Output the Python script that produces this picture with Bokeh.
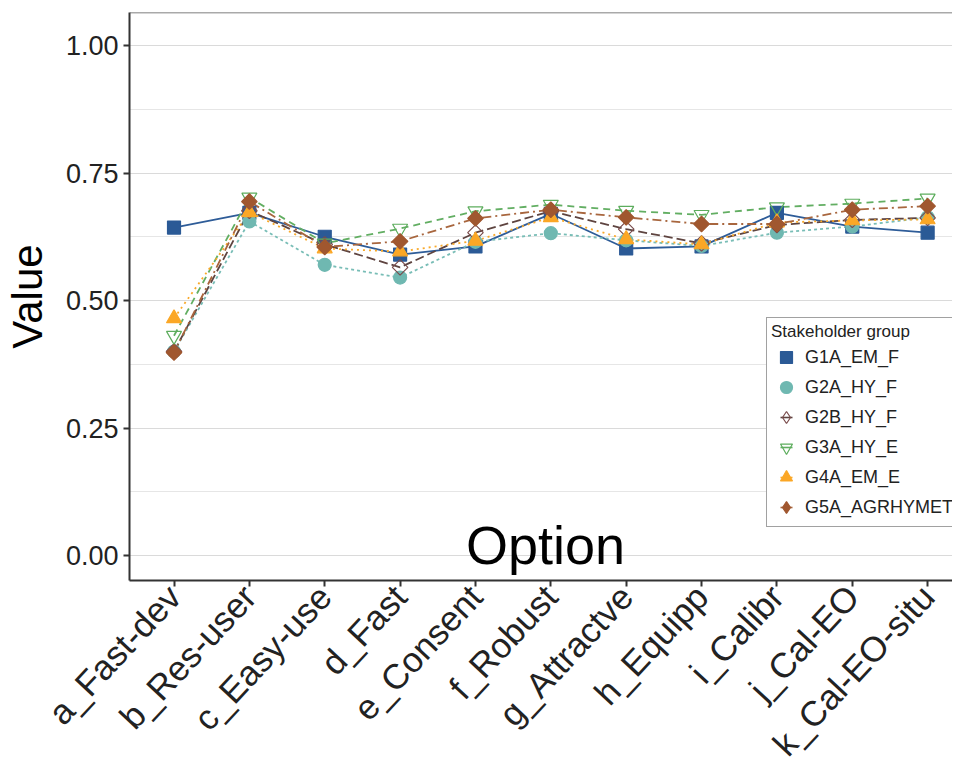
from math import pi, radians
import numpy as np
from bokeh.plotting import figure
from bokeh.models import (Range1d, FixedTicker, Legend, LegendItem, Span, Label,
                          PrintfTickFormatter, ColumnDataSource)
from bokeh.embed import file_html
from bokeh.resources import INLINE

categories = ["a_Fast-dev", "b_Res-user", "c_Easy-use", "d_Fast", "e_Consent",
              "f_Robust", "g_Attractve", "h_Equipp", "i_Calibr", "j_Cal-EO",
              "k_Cal-EO-situ"]
groups = ["G1A_EM_F", "G2A_HY_F", "G2B_HY_F", "G3A_HY_E", "G4A_EM_E", "G5A_AGRHYMET"]

g1a = [0.643, 0.672, 0.625, 0.590, 0.606, 0.670, 0.602, 0.606, 0.672, 0.645, 0.633]
g2a = [0.400, 0.655, 0.570, 0.545, 0.615, 0.632, 0.618, 0.607, 0.633, 0.645, 0.663]
g2b = [0.400, 0.676, 0.610, 0.565, 0.633, 0.675, 0.640, 0.612, 0.648, 0.658, 0.662]
g3a = [0.431, 0.702, 0.612, 0.641, 0.675, 0.688, 0.676, 0.668, 0.683, 0.690, 0.700]
g4a = [0.465, 0.673, 0.602, 0.596, 0.617, 0.663, 0.620, 0.610, 0.653, 0.657, 0.659]
g5a = [0.398, 0.694, 0.605, 0.616, 0.661, 0.678, 0.663, 0.650, 0.650, 0.678, 0.685]
series = [g1a, g2a, g2b, g3a, g4a, g5a]

y_ticks = [0.0, 0.25, 0.5, 0.75, 1.0]
y_minor = [0.125, 0.375, 0.625, 0.875]

FONT = "Liberation Sans"
x_idx = list(range(len(categories)))

p = figure(width=952, height=780, output_backend="svg", toolbar_location=None,
           x_range=Range1d(-0.5906, 10.33), y_range=Range1d(-0.049, 1.0647),
           min_border_left=120, min_border_right=0, min_border_top=12,
           min_border_bottom=200, outline_line_color=None,
           background_fill_color="white", border_fill_color="white")

# axes
p.yaxis.ticker = FixedTicker(ticks=y_ticks, minor_ticks=y_minor)
p.yaxis.formatter = PrintfTickFormatter(format="%.2f")
p.xaxis.ticker = FixedTicker(ticks=x_idx)
p.xaxis.major_label_overrides = {i: c for i, c in enumerate(categories)}
p.xaxis.major_label_orientation = radians(47)
for ax in (p.xaxis, p.yaxis):
    ax.axis_line_color = "#333333"
    ax.axis_line_width = 2
    ax.major_tick_line_color = "#333333"
    ax.major_tick_line_width = 2
    ax.major_tick_out = 6
    ax.major_tick_in = 0
    ax.minor_tick_line_color = None
    ax.major_label_text_font = FONT
    ax.major_label_text_color = "#222222"
p.yaxis.major_label_text_font_size = "27px"
p.xaxis.major_label_text_font_size = "35px"
p.xaxis.major_label_standoff = 4
p.yaxis.major_label_standoff = 5
p.yaxis.axis_label = "Value"
p.yaxis.axis_label_text_font = FONT
p.yaxis.axis_label_text_font_size = "42px"
p.yaxis.axis_label_text_font_style = "normal"
p.yaxis.axis_label_text_color = "black"
p.yaxis.axis_label_standoff = 12

# grid
p.xgrid.grid_line_color = None
p.ygrid.grid_line_color = "#DADADA"
p.ygrid.grid_line_width = 1.2
p.ygrid.minor_grid_line_color = "#E6E6E6"
p.ygrid.minor_grid_line_width = 1.2

# top border
p.add_layout(Span(location=1.0647, dimension="width", line_color="#555555", line_width=1.5))

styles = [
    dict(lc="#2E5C98", dash="solid", marker="square", size=13, fill="#2B5A96", mline="#2B5A96", angle=0, key="square"),
    dict(lc="#78BDB6", dash="3 3", marker="circle", size=13, fill="#6FB8B1", mline="#6FB8B1", angle=0, key="circle"),
    dict(lc="#5E4440", dash="9 4", marker="square", size=11, fill=None, mline="#7A4C4C", angle=pi / 4, key="diamond"),
    dict(lc="#62AE62", dash="7 5", marker="inverted_triangle", size=15, fill=None, mline="#5DAD5D", angle=0, key="inverted_triangle"),
    dict(lc="#F9A92A", dash="2 4", marker="triangle", size=15, fill="#FBA726", mline="#FBA726", angle=0, key="triangle"),
    dict(lc="#A8663E", dash="9 4 2 4", marker="square", size=11, fill="#A0572F", mline="#A0572F", angle=pi / 4, key="diamond"),
]

line_rs = []
for ys, st in zip(series, styles):
    line_rs.append(p.line(x_idx, ys, line_color=st["lc"], line_width=1.8, line_dash=st["dash"]))
pt_rs = []
for ys, st in zip(series, styles):
    pt_rs.append(p.scatter(x_idx, ys, marker=st["marker"], size=st["size"], angle=st["angle"],
                           fill_color=st["fill"], line_color=st["mline"], line_width=1.2))

# legend keys (not drawn in the plot: NaN position): short line under a marker
items = []
for g, st in zip(groups, styles):
    src = ColumnDataSource(dict(x=np.array([np.nan]), y=np.array([np.nan])))
    key_line = p.scatter(x="x", y="y", source=src, marker="dash", size=12,
                         line_color=st["lc"], line_width=1.6)
    key_pt = p.scatter(x="x", y="y", source=src, marker=st["key"], size=12,
                       fill_color=st["fill"], line_color=st["mline"], line_width=1.2)
    items.append(LegendItem(label=g, renderers=[key_line, key_pt]))

legend = Legend(items=items, location=(637, 53), title="Stakeholder group",
                title_text_font=FONT, title_text_font_size="17px", title_text_font_style="normal",
                title_text_color="#222222", title_standoff=0,
                label_text_font=FONT, label_text_font_size="18px", label_text_color="#222222",
                glyph_width=30, glyph_height=30, label_height=20, spacing=0,
                label_standoff=4, padding=4, margin=0,
                border_line_color="#444444", border_line_width=1.2,
                background_fill_color="white", background_fill_alpha=1.0)
p.add_layout(legend)

p.add_layout(Label(x=4.93, y=0.02, text="Option", text_align="center", text_baseline="middle",
                   text_font=FONT, text_font_size="54px", text_color="black"))

open("out.html", "w").write(file_html(p, INLINE))
